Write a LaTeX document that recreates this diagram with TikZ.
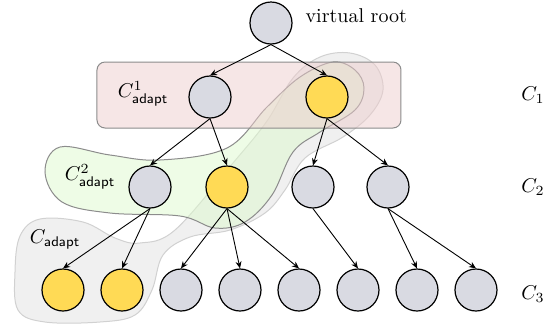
\documentclass[tikz,border=0pt]{standalone}
\usepackage{amsmath, tikz, xcolor}
\usetikzlibrary{arrows.meta, calc}

\definecolor{nodegray}{HTML}{D9DAE2}
\definecolor{nodeyellow}{HTML}{FFDA55}
\definecolor{rectpink}{HTML}{EDCDCD}
\definecolor{blobgreen}{HTML}{DDF9CD}
\definecolor{blobgray}{HTML}{F0F0F0}

\tikzset{
    vert/.style = {circle, draw, line width=0.6pt, fill=nodegray,
                   inner sep=0pt, minimum size=21pt},
    picked/.style = {vert, fill=nodeyellow},
    edge/.style = {-{Stealth[length=3.5pt, width=3pt]}, line width=0.45pt},
}

\begin{document}
\begin{tikzpicture}[x=0.5pt, y=-0.5pt]
    \useasboundingbox (0,0) rectangle (559,329);

    % grey cut C_adapt
    \draw [draw=black!18, fill=blobgray, line width=0.5pt]
        plot [smooth cycle, tension=0.6] coordinates {
            (15,272) (20,236) (40,219) (83,222) (115,238) (140,243)
            (175,230) (233,163) (267,121) (293,78) (320,57) (350,53)
            (375,65) (383,90) (370,115) (343,137) (305,158) (285,190)
            (265,213) (230,230) (190,237) (163,255) (152,290) (135,315)
            (100,322) (45,322) (18,310)};

    % green cut C^2_adapt
    \draw [draw=black!45, fill=blobgreen, fill opacity=0.5, line width=0.5pt]
        plot [smooth cycle, tension=0.6] coordinates {
            (45,172) (60,147) (110,155) (160,160) (227,148) (267,107)
            (300,77) (333,62) (355,70) (364,88) (355,110) (320,132)
            (293,152) (272,195) (245,222) (215,228) (180,216) (110,213)
            (62,202)};

    % level one cut C^1_adapt
    \draw [draw=black!45, fill=rectpink, fill opacity=0.5, line width=0.5pt,
           rounded corners=4pt] (97,62) rectangle (401,128);

    % tree
    \node [vert] (r) at (271,23) {};
    \node [right] at ($(r.east)+(6,-7)$) {virtual root};

    \node [vert]   (a1) at (210,97) {};
    \node [picked] (a2) at (327,97) {};

    \node [vert]   (b1) at (150,187) {};
    \node [picked] (b2) at (227,187) {};
    \node [vert]   (b3) at (313,187) {};
    \node [vert]   (b4) at (388,187) {};

    \node [picked] (c1) at (63,290) {};
    \node [picked] (c2) at (122,290) {};
    \node [vert]   (c3) at (181,290) {};
    \node [vert]   (c4) at (240,290) {};
    \node [vert]   (c5) at (299,290) {};
    \node [vert]   (c6) at (358,290) {};
    \node [vert]   (c7) at (417,290) {};
    \node [vert]   (c8) at (476,290) {};

    \foreach \p/\c in {r/a1, r/a2, a1/b1, a1/b2, a2/b3, a2/b4,
                       b1/c1, b1/c2, b2/c3, b2/c4, b2/c5, b3/c6, b4/c7, b4/c8}
        \draw [edge] (\p.south) -- (\c.north);

    % cut labels
    \node at (143,94)  {$C^1_{\mathsf{adapt}}$};
    \node at (90,177)  {$C^2_{\mathsf{adapt}}$};
    \node at (55,240)  {$C_{\mathsf{adapt}}$};

    % level labels
    \node at (533,95)  {$C_1$};
    \node at (533,187) {$C_2$};
    \node at (533,294) {$C_3$};
\end{tikzpicture}
\end{document}
